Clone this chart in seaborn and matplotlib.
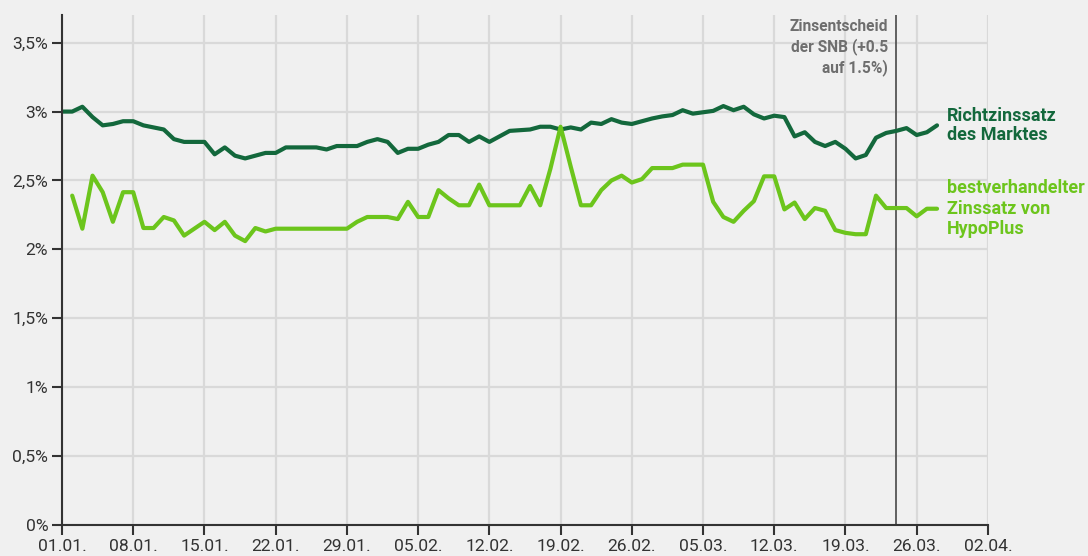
import numpy as np
import pandas as pd
import matplotlib
matplotlib.use("Agg")
import matplotlib.pyplot as plt
import matplotlib.dates as mdates
import seaborn as sns

# daily values (in %), starting 01.01.
markt = [3.00, 3.00, 3.035, 2.96, 2.90, 2.91, 2.93, 2.93, 2.90, 2.885,
         2.87, 2.80, 2.78, 2.78, 2.78, 2.69, 2.74, 2.68, 2.66, 2.68,
         2.70, 2.70, 2.74, 2.74, 2.74, 2.74, 2.725, 2.75, 2.75, 2.75,
         2.78, 2.80, 2.78, 2.70, 2.73, 2.73, 2.76, 2.78, 2.83, 2.83,
         2.78, 2.82, 2.78, 2.82, 2.86, 2.865, 2.87, 2.89, 2.89, 2.87,
         2.885, 2.87, 2.92, 2.91, 2.945, 2.92, 2.91, 2.93, 2.95, 2.965,
         2.975, 3.01, 2.985, 2.995, 3.005, 3.04, 3.01, 3.035, 2.98, 2.95,
         2.97, 2.96, 2.82, 2.85, 2.78, 2.75, 2.78, 2.73, 2.66, 2.685,
         2.81, 2.845, 2.86, 2.88, 2.83, 2.85, 2.90]

# HypoPlus starts one day later (02.01.)
hypo = [2.39, 2.15, 2.535, 2.415, 2.20, 2.415, 2.415, 2.155, 2.155,
        2.235, 2.21, 2.10, 2.15, 2.20, 2.14, 2.20, 2.10, 2.06, 2.155,
        2.13, 2.15, 2.15, 2.15, 2.15, 2.15, 2.15, 2.15, 2.15, 2.20,
        2.235, 2.235, 2.235, 2.22, 2.345, 2.235, 2.235, 2.43, 2.37, 2.32,
        2.32, 2.47, 2.32, 2.32, 2.32, 2.32, 2.46, 2.32, 2.585, 2.89,
        2.60, 2.32, 2.32, 2.43, 2.50, 2.535, 2.485, 2.51, 2.59, 2.59,
        2.59, 2.615, 2.615, 2.615, 2.345, 2.235, 2.20, 2.28, 2.35, 2.53,
        2.53, 2.29, 2.34, 2.22, 2.30, 2.28, 2.14, 2.12, 2.11, 2.11,
        2.39, 2.30, 2.30, 2.30, 2.24, 2.295, 2.295]

y_ticks = [0, 0.5, 1, 1.5, 2, 2.5, 3, 3.5]
y_labels = ["0%", "0,5%", "1%", "1,5%", "2%", "2,5%", "3%", "3,5%"]
snb_date = pd.Timestamp("2023-03-24")

dark_green = "#13683c"
light_green = "#6cc51c"
bg = "#f0f0f0"

df_markt = pd.DataFrame({"datum": pd.date_range("2023-01-01", periods=len(markt)), "zins": markt})
df_hypo = pd.DataFrame({"datum": pd.date_range("2023-01-02", periods=len(hypo)), "zins": hypo})

sns.set_theme(style="white")
plt.rcParams["font.family"] = ["Roboto", "DejaVu Sans"]

fig = plt.figure(figsize=(10.88, 5.56), dpi=100, facecolor=bg)
ax = fig.add_axes([0.057, 0.0558, 0.851, 0.917])
ax.set_facecolor(bg)

sns.lineplot(data=df_markt, x="datum", y="zins", color=dark_green, linewidth=3.0, ax=ax)
sns.lineplot(data=df_hypo, x="datum", y="zins", color=light_green, linewidth=3.0, ax=ax)
for line in ax.lines:
    line.set_solid_joinstyle("round")
    line.set_solid_capstyle("round")

ax.set_xlim(pd.Timestamp("2023-01-01"), pd.Timestamp("2023-04-02"))
ax.set_ylim(0, 3.7)
ax.set_xticks(pd.date_range("2023-01-01", "2023-04-02", freq="7D"))
ax.xaxis.set_major_formatter(mdates.DateFormatter("%d.%m."))
ax.set_yticks(y_ticks)
ax.set_yticklabels(y_labels)
ax.set_xlabel("")
ax.set_ylabel("")

ax.grid(True, color="#d9d9d9", linewidth=1.6)
ax.set_axisbelow(True)
for s in ["top", "right"]:
    ax.spines[s].set_visible(False)
for s in ["left", "bottom"]:
    ax.spines[s].set_color("#333333")
    ax.spines[s].set_linewidth(1.5)
    ax.spines[s].set_zorder(5)
ax.tick_params(axis="both", length=7, width=1.5, color="#333333",
               labelsize=12.6, labelcolor="#333333", pad=3, direction="out")
ax.tick_params(axis="y", left=True)
ax.tick_params(axis="x", bottom=True)

# SNB decision
ax.axvline(snb_date, color="#555555", linewidth=1.3, zorder=1.5)
ax.annotate("Zinsentscheid\nder SNB (+0.5\nauf 1.5%)", xy=(snb_date, 3.7),
            xytext=(-6, -3), textcoords="offset points", ha="right", va="top",
            fontsize=11.2, color="#6e6e6e", fontweight="bold", linespacing=1.3)

# end labels
ax.annotate("Richtzinssatz\ndes Marktes", xy=(df_markt["datum"].iloc[-1], markt[-1]),
            xytext=(7, 0), textcoords="offset points", ha="left", va="center",
            fontsize=13, color=dark_green, fontweight="bold", linespacing=1.12,
            annotation_clip=False)
ax.annotate("bestverhandelter\nZinssatz von\nHypoPlus", xy=(df_hypo["datum"].iloc[-1], hypo[-1]),
            xytext=(7, 0), textcoords="offset points", ha="left", va="center",
            fontsize=13, color=light_green, fontweight="bold", linespacing=1.18,
            annotation_clip=False)

fig.savefig("out.png", dpi=100, facecolor=bg)
